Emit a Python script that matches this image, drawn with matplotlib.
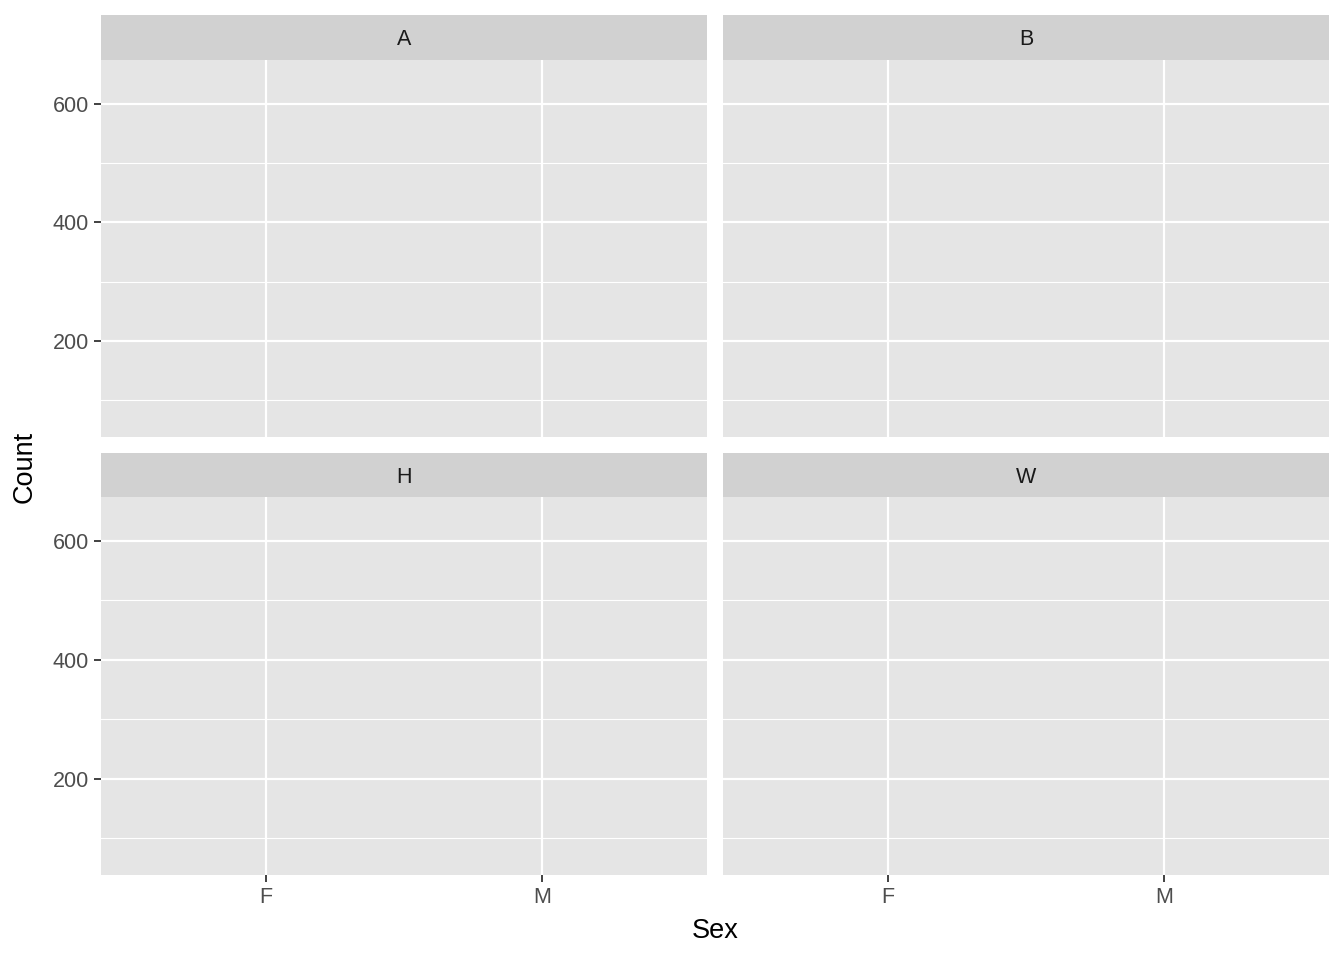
import matplotlib
matplotlib.use("Agg")
import matplotlib.pyplot as plt

plt.rcParams["font.family"] = ["Liberation Sans", "DejaVu Sans"]

# facet levels and axis values (panels are empty)
sites = ["A", "B", "H", "W"]
sexes = ["F", "M"]
y_ticks = [200, 400, 600]
y_minor = [100, 300, 500]
y_range = [38, 674]

W, H = 1344, 960
fig = plt.figure(figsize=(W / 100, H / 100), dpi=100)
fig.patch.set_facecolor("white")

panel_bg = "#E5E5E5"
strip_bg = "#D1D1D1"
tick_col = "#4D4D4D"

# panel boxes in pixels: (left, right) and (strip_top, panel_top, panel_bottom)
cols = [(101, 707), (723, 1329)]
rows = [(15, 60, 437), (453, 497, 875)]


def fx(px):
    return px / W


def fy(py):
    return 1 - py / H


for i, site in enumerate(sites):
    r, c = divmod(i, 2)
    x0, x1 = cols[c]
    st, pt, pb = rows[r]
    ax = fig.add_axes([fx(x0), fy(pb), fx(x1) - fx(x0), fy(pt) - fy(pb)])
    ax.set_facecolor(panel_bg)
    ax.set_xlim(-0.6, len(sexes) - 1 + 0.6)
    ax.set_ylim(y_range[0], y_range[1])
    for s in ax.spines.values():
        s.set_visible(False)
    for v in y_minor:
        ax.axhline(v, color="white", lw=0.8, zorder=0)
    for v in y_ticks:
        ax.axhline(v, color="white", lw=1.6, zorder=0)
    for k in range(len(sexes)):
        ax.axvline(k, color="white", lw=1.6, zorder=0)
    ax.set_xticks(range(len(sexes)))
    ax.set_yticks(y_ticks)
    ax.tick_params(length=5, width=1.3, color="#333333", labelcolor=tick_col,
                   labelsize=15.5, pad=3.5)
    if r == 1:
        ax.set_xticklabels(sexes)
    else:
        ax.tick_params(axis="x", bottom=False, labelbottom=False)
    if c == 0:
        ax.set_yticklabels([str(v) for v in y_ticks])
    else:
        ax.tick_params(axis="y", left=False, labelleft=False)

    sax = fig.add_axes([fx(x0), fy(pt), fx(x1) - fx(x0), fy(st) - fy(pt)])
    sax.set_facecolor(strip_bg)
    sax.set_xticks([])
    sax.set_yticks([])
    for s in sax.spines.values():
        s.set_visible(False)
    sax.text(0.5, 0.45, site, ha="center", va="center", fontsize=15.5,
             color="#1A1A1A", transform=sax.transAxes)

fig.text(fx(715), fy(931), "Sex", ha="center", va="center", fontsize=19.5)
fig.text(fx(25), fy(467), "Count", ha="center", va="center", fontsize=19.5,
         rotation=90)

fig.savefig("out.png", dpi=100)
